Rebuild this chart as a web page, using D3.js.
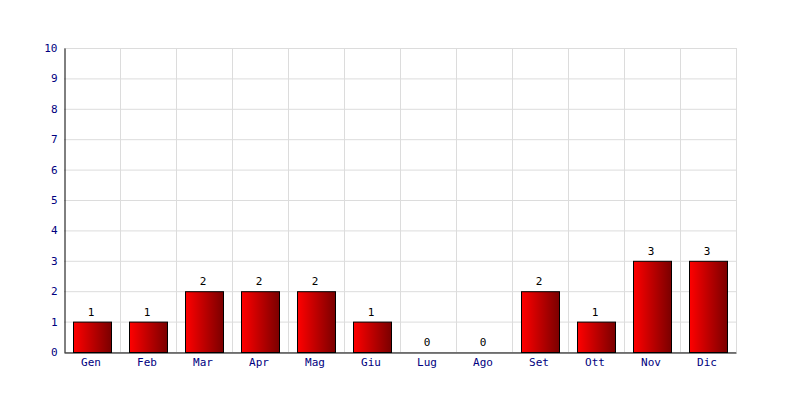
<!DOCTYPE html>
<html><head><meta charset="utf-8">
<script src="https://cdn.jsdelivr.net/npm/d3@7"></script>
<style>body{margin:0;background:#fff}svg{display:block}text{font-family:"DejaVu Sans Mono",monospace;font-size:11px}</style>
</head><body><svg id="c" width="800" height="400"></svg>
<script>
const months = ["Gen","Feb","Mar","Apr","Mag","Giu","Lug","Ago","Set","Ott","Nov","Dic"];
const values = [1,1,2,2,2,1,0,0,2,1,3,3];
const yTicks = [0,1,2,3,4,5,6,7,8,9,10];

const svg = d3.select("#c");
const L=64, R=736, T=48, B=352;
const x = d3.scaleBand().domain(months).range([L,R]).paddingInner(0).paddingOuter(0);
const y = d3.scaleLinear().domain([0,10]).range([B,T]);

const defs = svg.append("defs");
const g = defs.append("linearGradient").attr("id","bg").attr("x1","0").attr("x2","1").attr("y1","0").attr("y2","0");
g.append("stop").attr("offset","0").attr("stop-color","#ff0000");
g.append("stop").attr("offset","1").attr("stop-color","#7a0000");

// grid
svg.append("g").selectAll("line").data(yTicks).join("line")
  .attr("x1",L).attr("x2",R).attr("y1",d=>y(d)+0.5).attr("y2",d=>y(d)+0.5)
  .attr("stroke","#dcdcdc");
svg.append("g").selectAll("line").data(months.slice(1).concat(["end"])).join("line")
  .attr("x1",(d,i)=>L+(i+1)*x.bandwidth()+0.5).attr("x2",(d,i)=>L+(i+1)*x.bandwidth()+0.5)
  .attr("y1",T).attr("y2",B).attr("stroke","#dcdcdc");

// bars
const bw = 38;
svg.append("g").selectAll("rect").data(values.map((v,i)=>({m:months[i],v}))).join("rect")
  .filter(d=>d.v>0)
  .attr("x",d=>x(d.m)+(x.bandwidth()-bw)/2+0.5)
  .attr("y",d=>y(d.v)+0.5)
  .attr("width",bw).attr("height",d=>y(0)-y(d.v))
  .attr("fill","url(#bg)").attr("stroke","#000").attr("stroke-width",1);

// value labels
svg.append("g").selectAll("text").data(values.map((v,i)=>({m:months[i],v}))).join("text")
  .attr("x",d=>x(d.m)+x.bandwidth()/2-1).attr("y",d=>y(d.v)-6)
  .attr("text-anchor","middle").attr("fill","#000").text(d=>d.v);

// axes
const ya = d3.axisLeft(y).tickValues(yTicks).tickSize(0).tickPadding(7);
const yg = svg.append("g").attr("transform",`translate(${L+0.5},0)`).call(ya);
yg.select(".domain").attr("stroke","#000");
yg.selectAll("text").attr("fill","#000080").style("font-family","'DejaVu Sans Mono',monospace").style("font-size","11px");

const xa = d3.axisBottom(x).tickSize(0).tickPadding(6);
const xg = svg.append("g").attr("transform",`translate(0,${B+0.5})`).call(xa);
xg.select(".domain").attr("stroke","#000");
xg.selectAll("text").attr("fill","#000080").attr("dx","-1").style("font-family","'DejaVu Sans Mono',monospace").style("font-size","11px");
</script></body></html>
